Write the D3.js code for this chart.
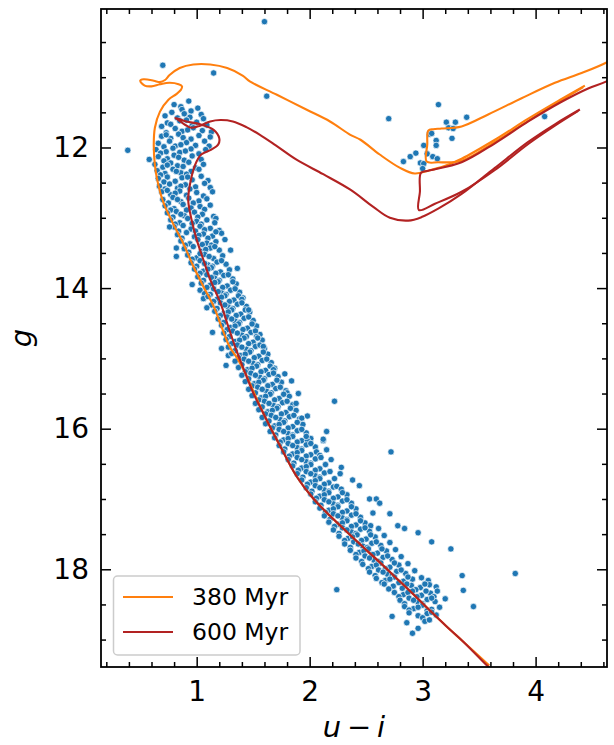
<!DOCTYPE html>
<html>
<head>
<meta charset="utf-8">
<style>
  body { margin: 0; background: #fff; }
  svg text { font-family: "DejaVu Sans", sans-serif; fill: #000; }
</style>
</head>
<body>
<div class="cmd"></div>

<script src="https://d3js.org/d3.v7.min.js"></script>
<script>
  // ticks
  const xMajor = [1, 2, 3, 4];
  const xMinor = [0.2, 0.4, 0.6, 0.8, 1.2, 1.4, 1.6, 1.8, 2.2, 2.4, 2.6, 2.8, 3.2, 3.4, 3.6, 3.8, 4.2, 4.4, 4.6];
  const yMajor = [12, 14, 16, 18];
  const yMinor = [10.5, 11, 11.5, 12.5, 13, 13.5, 14.5, 15, 15.5, 16.5, 17, 17.5, 18.5, 19];

  const ages = ['380 Myr', '600 Myr'];

  // 380 Myr isochrone: main sequence -> turnoff -> subgiant -> giant branch
  const iso380Main = [
    [3.59,19.37],[3.36,19.03],[3.21,18.81],[3.06,18.58],[2.92,18.36],[2.77,18.13],[2.62,17.90],[2.47,17.68],
    [2.33,17.47],[2.18,17.24],[2.03,16.99],[1.885,16.68],[1.74,16.25],[1.59,15.78],[1.43,15.21],[1.36,15.00],
    [1.29,14.83],[1.22,14.55],[1.15,14.26],[1.06,13.98],
    [0.97,13.69],[0.88,13.36],[0.79,13.08],[0.705,12.78],[0.66,12.53],[0.63,12.25],[0.62,11.96],[0.63,11.72],
    [0.675,11.49],[0.75,11.32],[0.82,11.24],[0.86,11.18],[0.87,11.13],[0.84,11.10],[0.76,11.08],[0.675,11.10],
    [0.60,11.13],[0.54,11.12],[0.50,11.05],[0.53,11.03],[0.62,11.05],[0.675,11.07],[0.72,11.04],[0.76,10.97],
    [0.85,10.87],[0.97,10.82],[1.12,10.82],[1.27,10.87],[1.41,10.98],[1.47,11.06],[1.71,11.25],[1.97,11.46],
    [2.18,11.63],[2.36,11.82],[2.45,11.89],[2.62,12.10],[2.80,12.29],[2.93,12.37],[3.05,12.33],[3.20,12.26],
    [3.345,12.16],[3.64,11.89],[3.935,11.59],[4.23,11.31],[4.436,11.12]
  ];
  // 380 Myr: clump and asymptotic branch
  const iso380Clump = [
    [4.421,11.14],[4.23,11.33],[3.935,11.62],[3.64,11.92],[3.345,12.19],[3.138,12.21],[3.035,12.20],
    [3.041,11.96],[3.05,11.76],[3.094,11.74],[3.168,11.73],[3.345,11.70],[3.58,11.53],[3.876,11.30],
    [4.171,11.08],[4.407,10.94],[4.628,10.79],[4.80,10.62]
  ];

  // 600 Myr isochrone
  const iso600Main = [
    [3.64,19.48],[3.57,19.37],[3.36,19.03],[3.21,18.81],[3.06,18.58],[2.92,18.36],[2.77,18.13],[2.62,17.90],
    [2.47,17.68],[2.33,17.47],[2.18,17.24],[2.03,16.99],[1.885,16.68],[1.74,16.25],[1.68,16.07],[1.59,15.78],
    [1.50,15.49],[1.43,15.21],[1.35,14.88],[1.28,14.55],[1.21,14.21],[1.12,13.88],[1.06,13.60],[1.00,13.31],
    [0.955,13.03],[0.925,12.75],[0.94,12.53],[0.985,12.25],[1.04,12.10],[1.13,12.03],[1.19,11.96],[1.20,11.87],
    [1.15,11.75],[1.03,11.67],[0.91,11.63],[0.81,11.58],[0.84,11.61],[0.90,11.68],[0.955,11.72],[1.03,11.69],
    [1.12,11.63],[1.21,11.61],[1.32,11.63],[1.44,11.71],[1.56,11.82],[1.70,11.97],[1.88,12.17],[2.12,12.38],
    [2.36,12.60],[2.56,12.84],[2.71,13.00],[2.873,13.04],[2.991,12.99],[3.138,12.87],[3.345,12.66],[3.64,12.29],
    [3.935,11.92],[4.171,11.67],[4.392,11.46]
  ];
  const iso600Clump = [
    [4.377,11.48],[4.171,11.69],[3.935,11.95],[3.64,12.32],[3.345,12.63],[3.109,12.80],[2.967,12.89],
    [2.976,12.63],[2.985,12.36],[3.05,12.33],[3.345,12.21],[3.64,11.94],[3.935,11.63],[4.23,11.35],
    [4.465,11.16],[4.628,11.06],[4.80,10.88]
  ];

  // stars: [u-i, g]
  const stars = [
    [1.60,10.21],[0.70,10.83],[1.15,10.94],[1.62,11.27],[2.70,11.59],[4.08,11.56],
    [3.14,11.39],[3.21,11.64],[3.29,11.64],[3.39,11.57],[3.23,11.72],[3.27,11.73],[3.06,11.81],[3.08,11.80],
    [3.12,11.90],[3.26,11.87],[3.12,11.97],[3.01,11.97],[3.04,12.09],[3.09,12.13],[3.13,12.16],[2.94,12.08],
    [2.89,12.13],[2.83,12.20],[2.98,12.22],[3.01,12.23],[3.00,12.30],
    [0.93,11.34],[0.80,11.39],[0.86,11.42],[0.87,11.46],[1.01,11.44],[0.78,11.50],[1.04,11.53],[0.95,11.48],
    [0.72,11.55],[0.89,11.52],[0.83,11.58],[0.94,11.57],[0.74,11.65],[0.77,11.67],[0.85,11.62],[0.91,11.61],
    [1.00,11.64],[1.09,11.68],[0.69,11.70],[0.96,11.69],[1.06,11.59],
    [0.81,11.73],[0.87,11.77],[0.97,11.72],[1.05,11.76],[0.73,11.79],[1.13,11.78],[0.92,11.75],[0.69,11.84],
    [0.77,11.87],[0.84,11.81],[0.95,11.88],[1.02,11.83],[1.12,11.85],[0.88,11.86],[0.73,11.82],[0.66,11.94],
    [0.76,11.91],[0.81,11.98],[0.91,11.93],[0.99,11.97],[1.07,11.91],[0.86,11.96],[0.71,11.99],[1.11,11.98],
    [0.64,12.03],[0.73,12.06],[0.79,12.01],[0.85,12.07],[0.95,12.02],[1.02,12.09],[1.08,12.03],[0.90,12.05],
    [0.39,12.04],[0.68,12.08],[0.58,12.17],[0.66,12.13],[0.74,12.16],[0.80,12.11],[0.89,12.18],[0.96,12.12],
    [1.04,12.17],[0.71,12.19],[0.84,12.14],[0.63,12.24],[0.70,12.28],[0.77,12.22],[0.83,12.26],[0.93,12.21],
    [0.99,12.29],[1.06,12.24],[0.88,12.27],[0.74,12.25],[0.65,12.33],[0.72,12.37],[0.79,12.31],[0.86,12.36],
    [0.95,12.34],[1.02,12.31],[0.68,12.39],[0.91,12.38],[0.82,12.34],[0.66,12.44],[0.74,12.42],[0.81,12.48],
    [0.87,12.43],[0.96,12.46],[1.04,12.41],[0.71,12.49],[1.10,12.47],[0.92,12.42],
    [0.67,12.55],[0.76,12.52],[0.83,12.58],[0.90,12.53],[0.99,12.56],[1.07,12.51],[0.72,12.59],[0.86,12.55],[0.94,12.59],[1.12,12.57],
    [0.69,12.63],[0.77,12.67],[0.85,12.62],[0.91,12.68],[1.00,12.64],[1.06,12.69],[0.74,12.61],[1.14,12.63],[0.81,12.65],
    [0.70,12.74],[0.79,12.71],[0.86,12.77],[0.93,12.72],[1.02,12.76],[1.09,12.73],[0.75,12.79],[0.97,12.79],[0.83,12.74],
    [0.72,12.83],[0.80,12.87],[0.88,12.81],[0.95,12.86],[1.03,12.84],[1.12,12.82],[0.77,12.89],[0.91,12.89],[1.07,12.88],
    [0.74,12.93],[0.82,12.91],[0.89,12.97],[0.98,12.92],[1.05,12.95],[1.15,12.98],[0.79,12.99],[0.86,12.95],[1.01,12.99],
    [0.77,13.03],[0.85,13.07],[0.92,13.01],[1.00,13.05],[1.09,13.03],[1.17,13.01],[0.81,13.09],[0.96,13.08],[1.04,13.09],[1.16,13.07],
    [0.80,13.13],[0.88,13.11],[0.95,13.16],[1.03,13.12],[1.12,13.15],[1.20,13.18],[0.84,13.19],[0.99,13.19],[1.07,13.17],[0.76,13.13],
    [0.83,13.24],[0.91,13.21],[0.98,13.27],[1.06,13.23],[1.14,13.26],[1.22,13.22],[0.87,13.29],[1.02,13.25],[1.10,13.29],[1.17,13.20],
    [0.86,13.33],[0.94,13.37],[1.01,13.31],[1.09,13.36],[1.17,13.34],[1.25,13.31],[0.90,13.39],[1.05,13.38],[1.13,13.39],
    [0.89,13.44],[0.97,13.41],[1.04,13.48],[1.12,13.43],[1.20,13.46],[1.30,13.46],[0.93,13.49],[1.08,13.45],[1.16,13.41],[0.82,13.43],
    [0.82,13.55],[0.92,13.53],[1.00,13.57],[1.07,13.52],[1.15,13.58],[1.23,13.54],[0.96,13.59],[1.11,13.55],[1.03,13.51],
    [0.95,13.64],[1.03,13.61],[1.10,13.67],[1.18,13.63],[1.26,13.66],[1.00,13.69],[1.14,13.69],[1.07,13.65],[1.22,13.61],
    [0.98,13.73],[1.06,13.76],[1.13,13.71],[1.21,13.77],[1.29,13.74],[1.03,13.79],[1.36,13.72],[1.17,13.79],[1.10,13.73],
    [1.01,13.84],[1.09,13.81],[1.16,13.86],[1.24,13.82],[1.32,13.87],[1.06,13.89],[1.20,13.89],[1.13,13.85],[1.28,13.81],
    [0.96,13.95],[1.04,13.93],[1.12,13.96],[1.19,13.91],[1.27,13.97],[1.35,13.94],[1.09,13.99],[1.23,13.99],[1.16,13.92],[1.32,13.91],
    [1.03,14.03],[1.07,14.08],[1.15,14.01],[1.22,14.07],[1.30,14.03],[1.38,14.06],[1.12,14.09],[1.26,14.09],[1.19,14.05],[1.34,14.01],
    [1.06,14.15],[1.10,14.12],[1.18,14.16],[1.25,14.11],[1.33,14.17],[1.41,14.14],[1.15,14.19],[1.29,14.19],[1.22,14.13],[1.37,14.11],[1.40,14.16],
    [1.13,14.24],[1.21,14.21],[1.28,14.27],[1.36,14.23],[1.44,14.26],[1.18,14.29],[1.32,14.29],[1.25,14.24],[1.40,14.21],[1.09,14.28],
    [1.16,14.33],[1.24,14.36],[1.31,14.31],[1.39,14.37],[1.47,14.34],[1.21,14.39],[1.35,14.39],[1.28,14.34],[1.43,14.31],[1.46,14.31],
    [1.19,14.44],[1.27,14.41],[1.34,14.47],[1.42,14.43],[1.50,14.46],[1.24,14.49],[1.38,14.49],[1.31,14.44],[1.46,14.41],
    [1.22,14.53],[1.30,14.56],[1.37,14.51],[1.45,14.57],[1.53,14.54],[1.27,14.59],[1.41,14.59],[1.34,14.54],[1.49,14.51],
    [1.14,14.63],[1.24,14.64],[1.32,14.61],[1.40,14.67],[1.48,14.63],[1.56,14.66],[1.29,14.69],[1.44,14.69],[1.36,14.64],[1.52,14.61],[1.53,14.69],
    [1.26,14.73],[1.34,14.76],[1.42,14.71],[1.50,14.77],[1.58,14.74],[1.31,14.79],[1.46,14.79],[1.38,14.74],[1.54,14.71],
    [1.22,14.86],[1.28,14.84],[1.36,14.81],[1.44,14.87],[1.52,14.83],[1.60,14.86],[1.34,14.89],[1.48,14.89],[1.40,14.84],[1.56,14.81],[1.59,14.83],
    [1.28,14.96],[1.31,14.93],[1.39,14.96],[1.47,14.91],[1.55,14.97],[1.63,14.94],[1.37,14.99],[1.51,14.99],[1.43,14.94],[1.59,14.91],
    [1.26,15.10],[1.34,15.04],[1.42,15.01],[1.50,15.07],[1.58,15.03],[1.66,15.06],[1.40,15.09],[1.54,15.09],[1.46,15.04],[1.62,15.01],
    [1.37,15.13],[1.45,15.16],[1.53,15.11],[1.61,15.17],[1.69,15.14],[1.43,15.19],[1.57,15.19],[1.49,15.14],[1.65,15.11],[1.68,15.16],
    [1.40,15.24],[1.48,15.21],[1.56,15.27],[1.64,15.23],[1.72,15.26],[1.46,15.29],[1.60,15.29],[1.52,15.24],[1.68,15.21],[1.78,15.22],
    [1.43,15.33],[1.51,15.36],[1.59,15.31],[1.67,15.37],[1.75,15.34],[1.84,15.32],[1.49,15.39],[1.63,15.39],[1.55,15.34],[1.71,15.31],
    [1.46,15.44],[1.54,15.41],[1.62,15.47],[1.70,15.43],[1.79,15.46],[1.52,15.49],[1.66,15.49],[1.58,15.44],[1.74,15.41],[1.80,15.49],
    [1.49,15.53],[1.57,15.56],[1.65,15.51],[1.73,15.57],[1.82,15.54],[1.55,15.59],[1.90,15.50],[1.69,15.59],[1.61,15.54],[1.77,15.51],
    [1.52,15.64],[1.60,15.61],[1.68,15.67],[1.76,15.63],[1.85,15.66],[2.22,15.61],[1.58,15.69],[1.72,15.69],[1.64,15.64],[1.80,15.61],[1.88,15.64],
    [1.55,15.73],[1.63,15.76],[1.71,15.71],[1.79,15.77],[1.88,15.74],[1.61,15.79],[1.75,15.79],[1.67,15.74],[1.83,15.71],
    [1.58,15.84],[1.66,15.81],[1.74,15.87],[1.82,15.83],[1.91,15.86],[1.64,15.89],[1.98,15.82],[1.78,15.89],[1.70,15.84],[1.86,15.81],[1.93,15.85],
    [1.61,15.93],[1.69,15.96],[1.77,15.91],[1.85,15.97],[1.94,15.94],[1.67,15.99],[1.81,15.99],[1.73,15.94],[1.89,15.91],
    [1.65,16.04],[1.73,16.01],[1.81,16.07],[1.89,16.03],[1.97,16.06],[1.70,16.09],[2.15,16.04],[1.85,16.09],[1.77,16.04],[1.93,16.01],
    [1.69,16.13],[1.77,16.16],[1.85,16.11],[1.93,16.17],[2.01,16.14],[1.98,16.17],[2.12,16.17],[1.74,16.19],[1.89,16.19],[1.81,16.14],[1.97,16.11],[2.12,16.15],
    [1.73,16.24],[1.81,16.21],[1.89,16.27],[1.97,16.23],[2.05,16.26],[1.78,16.29],[1.93,16.29],[1.85,16.24],[2.01,16.21],
    [1.77,16.33],[1.85,16.36],[1.93,16.31],[2.01,16.37],[2.06,16.33],[2.15,16.30],[2.72,16.33],[1.82,16.39],[1.97,16.39],[1.89,16.34],[2.09,16.38],
    [1.81,16.44],[1.89,16.41],[1.97,16.47],[2.05,16.43],[2.19,16.44],[1.86,16.49],[2.01,16.49],[1.93,16.44],[2.10,16.41],
    [1.85,16.53],[1.93,16.56],[2.01,16.51],[2.09,16.57],[2.28,16.55],[1.90,16.59],[2.05,16.59],[1.97,16.54],[2.14,16.51],
    [1.89,16.64],[1.97,16.61],[2.05,16.67],[2.13,16.63],[2.27,16.64],[1.94,16.69],[2.09,16.69],[2.01,16.64],[2.18,16.61],
    [1.93,16.73],[2.01,16.76],[2.09,16.71],[2.17,16.77],[2.38,16.73],[1.98,16.79],[2.13,16.79],[2.05,16.74],[2.22,16.71],
    [1.97,16.84],[2.05,16.81],[2.13,16.87],[2.21,16.83],[2.44,16.81],[2.24,16.82],[2.02,16.89],[2.17,16.89],[2.09,16.84],[2.28,16.86],
    [2.01,16.93],[2.09,16.96],[2.17,16.91],[2.25,16.97],[2.33,16.94],[2.06,16.99],[2.21,16.99],[2.13,16.94],[2.29,16.91],
    [2.05,17.04],[2.13,17.01],[2.21,17.07],[2.29,17.03],[2.37,17.06],[2.53,17.00],[2.59,17.00],[2.62,17.06],[2.10,17.09],[2.25,17.09],[2.17,17.04],[2.33,17.01],
    [2.09,17.13],[2.17,17.16],[2.25,17.11],[2.33,17.17],[2.41,17.14],[2.14,17.19],[2.29,17.19],[2.21,17.14],[2.37,17.11],
    [2.13,17.24],[2.21,17.21],[2.29,17.27],[2.37,17.23],[2.45,17.26],[2.56,17.20],[2.71,17.21],[2.18,17.29],[2.33,17.29],[2.25,17.24],[2.41,17.21],
    [2.17,17.33],[2.25,17.36],[2.33,17.31],[2.41,17.37],[2.49,17.34],[2.22,17.39],[2.37,17.39],[2.29,17.34],[2.45,17.31],[2.54,17.38],
    [2.21,17.44],[2.29,17.41],[2.37,17.47],[2.45,17.43],[2.53,17.46],[2.61,17.42],[2.78,17.38],[2.84,17.42],[2.96,17.48],[2.26,17.49],[2.41,17.49],[2.33,17.44],[2.49,17.41],
    [2.26,17.53],[2.34,17.56],[2.42,17.51],[2.50,17.57],[2.58,17.54],[2.66,17.52],[2.31,17.59],[2.46,17.59],[2.38,17.54],[2.54,17.51],
    [2.31,17.64],[2.39,17.61],[2.47,17.67],[2.55,17.63],[2.63,17.66],[2.71,17.62],[3.08,17.61],[2.36,17.69],[2.51,17.69],[2.43,17.64],[2.59,17.61],
    [2.36,17.73],[2.44,17.76],[2.52,17.71],[2.60,17.77],[2.68,17.74],[2.76,17.72],[3.25,17.71],[2.41,17.79],[2.56,17.79],[2.48,17.74],[2.64,17.71],
    [2.41,17.84],[2.49,17.81],[2.57,17.87],[2.65,17.83],[2.73,17.86],[2.81,17.82],[2.46,17.89],[2.61,17.89],[2.53,17.84],[2.69,17.81],
    [2.47,17.93],[2.55,17.96],[2.63,17.91],[2.71,17.97],[2.79,17.94],[2.87,17.92],[2.52,17.99],[2.67,17.99],[2.59,17.94],[2.75,17.91],
    [2.53,18.04],[2.61,18.01],[2.69,18.07],[2.77,18.03],[2.85,18.06],[2.93,18.02],[3.82,18.06],[2.58,18.09],[2.73,18.09],[2.65,18.04],[2.81,18.01],
    [2.59,18.13],[2.67,18.16],[2.75,18.11],[2.83,18.17],[2.91,18.14],[2.99,18.12],[3.35,18.09],[2.64,18.19],[2.79,18.19],[2.71,18.14],[2.87,18.11],[3.05,18.16],
    [2.66,18.21],[2.74,18.24],[2.82,18.27],[2.90,18.23],[2.98,18.26],[3.06,18.22],[3.12,18.25],[2.24,18.29],[2.70,18.28],[2.86,18.21],[2.94,18.29],[3.02,18.21],
    [2.75,18.33],[2.83,18.36],[2.91,18.31],[2.99,18.37],[3.07,18.34],[3.13,18.31],[3.36,18.30],[2.79,18.39],[2.95,18.39],[2.87,18.33],[3.03,18.31],[3.10,18.39],
    [2.80,18.44],[2.88,18.41],[2.96,18.47],[3.04,18.43],[3.11,18.46],[3.20,18.42],[2.84,18.49],[3.00,18.49],[2.92,18.44],[3.08,18.41],
    [2.84,18.53],[2.92,18.56],[3.00,18.51],[3.08,18.57],[3.15,18.54],[3.45,18.53],[2.88,18.58],[3.04,18.59],[2.96,18.54],
    [2.88,18.62],[2.96,18.66],[3.04,18.63],[3.12,18.65],[2.73,18.67],[3.00,18.69],[3.08,18.61],
    [2.96,18.84],[2.91,18.91],[3.02,18.74],[2.86,18.76],[3.06,18.72]
  ];

  const width = 614, height = 745;
  const mLeft = 101, mRight = 607, mTop = 9, mBottom = 667;

  const svg = d3.select('.cmd')
                .append('svg')
                .attr('width', width)
                .attr('height', height);

  const x = d3.scaleLinear().domain([0.153, 4.632]).range([mLeft, mRight]);
  const y = d3.scaleLinear().domain([10.03, 19.39]).range([mTop, mBottom]);

  svg.append('clipPath')
     .attr('id', 'plotArea')
     .append('rect')
     .attr('x', mLeft).attr('y', mTop)
     .attr('width', mRight - mLeft).attr('height', mBottom - mTop);

  const plot = svg.append('g').attr('clip-path', 'url(#plotArea)');

  // stars
  plot.selectAll('circle')
      .data(stars)
      .enter()
      .append('circle')
      .attr('cx', d => x(d[0]))
      .attr('cy', d => y(d[1]))
      .attr('r', 3.2)
      .attr('fill', '#1f77b4')
      .attr('stroke', '#fff')
      .attr('stroke-width', 0.7);

  // isochrones
  const line = d3.line()
                 .x(d => x(d[0]))
                 .y(d => y(d[1]))
                 .curve(d3.curveCatmullRom.alpha(0.5));

  const tracks = [
    {pts: iso380Main, color: '#ff7f0e'},
    {pts: iso380Clump, color: '#ff7f0e'},
    {pts: iso600Main, color: '#b22222'},
    {pts: iso600Clump, color: '#b22222'}
  ];
  plot.selectAll('path.iso')
      .data(tracks)
      .enter()
      .append('path')
      .attr('class', 'iso')
      .attr('d', d => line(d.pts))
      .attr('fill', 'none')
      .attr('stroke', d => d.color)
      .attr('stroke-width', 2.1)
      .attr('stroke-linejoin', 'round');

  // axes, ticks pointing inward on all four sides
  function styleAxis(g) {
    g.select('.domain').remove();
    g.selectAll('.tick line').attr('stroke', '#000').attr('stroke-width', 1.5);
    g.selectAll('.tick text').style('font-size', '28px');
  }

  svg.append('g').attr('transform', `translate(0,${mBottom})`)
     .call(d3.axisBottom(x).tickValues(xMajor).tickSizeInner(-10).tickSizeOuter(0).tickPadding(14).tickFormat(d3.format('d')))
     .call(styleAxis);
  svg.append('g').attr('transform', `translate(0,${mBottom})`)
     .call(d3.axisBottom(x).tickValues(xMinor).tickSizeInner(-5).tickSizeOuter(0).tickFormat(''))
     .call(styleAxis);
  svg.append('g').attr('transform', `translate(0,${mTop})`)
     .call(d3.axisTop(x).tickValues(xMajor).tickSizeInner(-10).tickSizeOuter(0).tickFormat(''))
     .call(styleAxis);
  svg.append('g').attr('transform', `translate(0,${mTop})`)
     .call(d3.axisTop(x).tickValues(xMinor).tickSizeInner(-5).tickSizeOuter(0).tickFormat(''))
     .call(styleAxis);

  svg.append('g').attr('transform', `translate(${mLeft},0)`)
     .call(d3.axisLeft(y).tickValues(yMajor).tickSizeInner(-10).tickSizeOuter(0).tickPadding(12).tickFormat(d3.format('d')))
     .call(styleAxis);
  svg.append('g').attr('transform', `translate(${mLeft},0)`)
     .call(d3.axisLeft(y).tickValues(yMinor).tickSizeInner(-5).tickSizeOuter(0).tickFormat(''))
     .call(styleAxis);
  svg.append('g').attr('transform', `translate(${mRight},0)`)
     .call(d3.axisRight(y).tickValues(yMajor).tickSizeInner(-10).tickSizeOuter(0).tickFormat(''))
     .call(styleAxis);
  svg.append('g').attr('transform', `translate(${mRight},0)`)
     .call(d3.axisRight(y).tickValues(yMinor).tickSizeInner(-5).tickSizeOuter(0).tickFormat(''))
     .call(styleAxis);

  // frame
  svg.append('rect')
     .attr('x', mLeft).attr('y', mTop)
     .attr('width', mRight - mLeft).attr('height', mBottom - mTop)
     .attr('fill', 'none')
     .attr('stroke', '#000')
     .attr('stroke-width', 1.8);

  // axis labels
  const xlab = svg.append('text')
                  .attr('x', (mLeft + mRight) / 2)
                  .attr('y', 737)
                  .attr('text-anchor', 'middle')
                  .style('font-size', '29px');
  xlab.append('tspan').style('font-style', 'italic').text('u');
  xlab.append('tspan').text('\u2009\u2212\u2009');
  xlab.append('tspan').style('font-style', 'italic').text('i');

  svg.append('text')
     .attr('transform', `translate(31,${(mTop + mBottom) / 2}) rotate(-90)`)
     .attr('text-anchor', 'middle')
     .style('font-size', '29px')
     .style('font-style', 'italic')
     .text('g');

  // legend
  const legend = svg.append('g');
  legend.append('rect')
        .attr('x', 113.5).attr('y', 576)
        .attr('width', 186.5).attr('height', 79)
        .attr('rx', 4)
        .attr('fill', '#fff').attr('fill-opacity', 0.8)
        .attr('stroke', '#cccccc').attr('stroke-width', 1.5);

  const legendColors = ['#ff7f0e', '#b22222'];
  const entries = legend.selectAll('g.entry')
                        .data(ages)
                        .enter()
                        .append('g')
                        .attr('class', 'entry')
                        .attr('transform', (d, i) => `translate(0,${597 + i * 35})`);
  entries.append('line')
         .attr('x1', 123).attr('x2', 173)
         .attr('stroke', (d, i) => legendColors[i])
         .attr('stroke-width', 2.1);
  entries.append('text')
         .attr('x', 192)
         .attr('dy', '0.36em')
         .style('font-size', '23.5px')
         .text(d => d);
</script>
</body>
</html>
